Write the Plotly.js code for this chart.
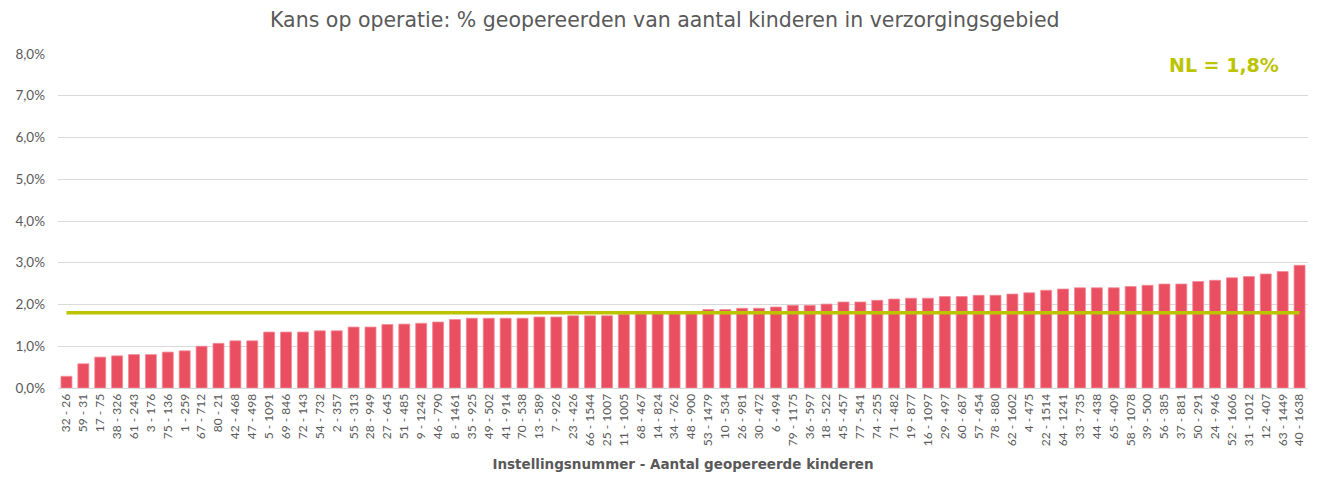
<!DOCTYPE html>
<html>
<head>
<meta charset="utf-8">
<script src="https://cdn.plot.ly/plotly-3.0.1.min.js"></script>
<style>html,body{margin:0;padding:0;background:#fff;}#chart{width:1319px;height:479px;}</style>
</head>
<body>
<div id="chart"></div>
<script>
const categories = [
  "32 - 26","59 - 31","17 - 75","38 - 326","61 - 243","3 - 176","75 - 136","1 - 259","67 - 712","80 - 21",
  "42 - 468","47 - 498","5 - 1091","69 - 846","72 - 143","54 - 732","2 - 357","55 - 313","28 - 949","27 - 645",
  "51 - 485","9 - 1242","46 - 790","8 - 1461","35 - 925","49 - 502","41 - 914","70 - 538","13 - 589","7 - 926",
  "23 - 426","66 - 1544","25 - 1007","11 - 1005","68 - 467","14 - 824","34 - 762","48 - 900","53 - 1479","10 - 534",
  "26 - 981","30 - 472","6 - 494","79 - 1175","36 - 597","18 - 522","45 - 457","77 - 541","74 - 255","71 - 482",
  "19 - 877","16 - 1097","29 - 497","60 - 687","57 - 454","78 - 880","62 - 1602","4 - 475","22 - 1514","64 - 1241",
  "33 - 735","44 - 438","65 - 409","58 - 1078","39 - 500","56 - 385","37 - 881","50 - 291","24 - 946","52 - 1606",
  "31 - 1012","12 - 407","63 - 1449","40 - 1638"
];
const percentages = [
  0.28,0.58,0.74,0.77,0.80,0.80,0.86,0.89,1.00,1.07,
  1.13,1.13,1.34,1.34,1.34,1.37,1.37,1.46,1.46,1.52,
  1.53,1.55,1.58,1.64,1.67,1.67,1.67,1.67,1.70,1.70,
  1.73,1.73,1.73,1.77,1.78,1.79,1.79,1.80,1.88,1.88,
  1.91,1.91,1.94,1.98,1.98,2.01,2.06,2.06,2.10,2.13,
  2.15,2.15,2.19,2.19,2.22,2.22,2.25,2.28,2.34,2.37,
  2.40,2.40,2.40,2.43,2.46,2.49,2.49,2.55,2.58,2.64,
  2.67,2.73,2.79,2.94
];
const nlValue = 1.8;
const nlLine = categories.map(() => nlValue);
const yTickVals = [0,1,2,3,4,5,6,7,8];
const yTickText = ["0,0%","1,0%","2,0%","3,0%","4,0%","5,0%","6,0%","7,0%","8,0%"];

const font = "Lato, 'Open Sans', sans-serif";
const wide = "'DejaVu Sans', sans-serif";
const traces = [
  {
    type: "bar",
    x: categories,
    y: percentages,
    marker: {color: "#e94f60", line: {color: "#f28a96", width: 0.8}},
    hoverinfo: "x+y"
  },
  {
    type: "scatter",
    mode: "lines",
    x: categories,
    y: nlLine,
    line: {color: "#bcc400", width: 3.5},
    hoverinfo: "y"
  }
];
const layout = {
  width: 1319, height: 479,
  margin: {l: 58, r: 11, t: 54, b: 91},
  paper_bgcolor: "#fff", plot_bgcolor: "#fff",
  showlegend: false,
  bargap: 0.35,
  title: {
    text: "Kans op operatie: % geopereerden van aantal kinderen in verzorgingsgebied",
    font: {family: wide, size: 20.5, color: "#595959"},
    x: 0.504, xanchor: "center", y: 0.958, yanchor: "middle"
  },
  xaxis: {
    type: "category",
    tickangle: -90,
    tickfont: {family: font, size: 12, color: "#595959"},
    showgrid: false,
    showline: true, linecolor: "#d9d9d9", linewidth: 1,
    ticks: "", automargin: false,
    title: {text: "<b>Instellingsnummer - Aantal geopereerde kinderen</b>", font: {family: wide, size: 13.5, color: "#595959"}, standoff: 14}
  },
  yaxis: {
    range: [0, 8],
    tickvals: yTickVals, ticktext: yTickText,
    tickfont: {family: font, size: 13.5, color: "#595959"},
    ticklabelstandoff: 12,
    gridcolor: "#d9d9d9", gridwidth: 1,
    zeroline: false, showline: false, ticks: "", automargin: false
  },
  annotations: [{
    xref: "paper", yref: "paper", x: 0.933, y: 0.968, xanchor: "center", yanchor: "middle",
    text: "<b>NL = 1,8%</b>", showarrow: false,
    font: {family: wide, size: 19, color: "#bcc400"},
    bgcolor: "#ffffff", borderpad: 4
  }]
};
Plotly.newPlot("chart", traces, layout, {displayModeBar: false, staticPlot: true});
</script>
</body>
</html>
